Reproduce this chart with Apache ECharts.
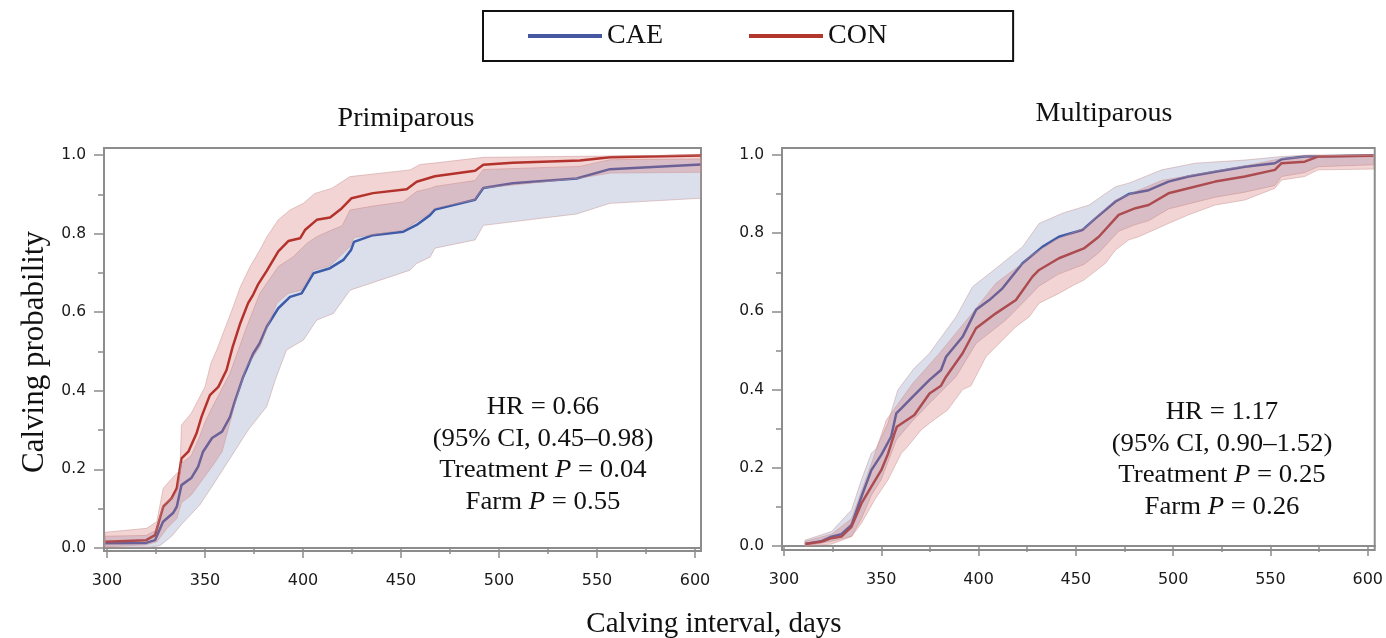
<!DOCTYPE html>
<html>
<head>
<meta charset="utf-8">
<script src="https://cdn.jsdelivr.net/npm/echarts@6/dist/echarts.min.js"></script>
<style>
  html, body { margin: 0; padding: 0; background: #fff; }
  #chart { width: 1386px; height: 638px; }
</style>
</head>
<body>
<div id="chart"></div>
<script>
// ticks
const xMajorTicks = [300, 350, 400, 450, 500, 550, 600];
const xMinorTicks = [325, 375, 425, 475, 525, 575];
const yMajorTicks = [0, 0.2, 0.4, 0.6, 0.8, 1.0];
const yMinorTicks = [0.1, 0.3, 0.5, 0.7, 0.9];

// Primiparous - CAE
const priCaeLine = [[299,0.012],[320,0.013],[324.5,0.02],[328.6,0.067],[333.7,0.089],[335.6,0.105],[338,0.16],[343,0.178],[346.5,0.207],[349,0.245],[353.6,0.28],[358.7,0.296],[362.8,0.334],[365,0.37],[369.5,0.436],[374.6,0.495],[378,0.522],[381.5,0.563],[387.4,0.61],[393.4,0.639],[399.3,0.648],[405.3,0.699],[413.8,0.712],[420.6,0.733],[424.5,0.758],[426,0.779],[435.7,0.796],[451.2,0.805],[458,0.822],[464.8,0.847],[467.3,0.861],[487.8,0.886],[492,0.916],[507,0.928],[539.6,0.94],[556.6,0.964],[603,0.976]];
const priCaeUpper = [[299,0.03],[320,0.032],[325,0.045],[328.6,0.11],[333.7,0.13],[336,0.15],[338,0.215],[343,0.235],[347,0.28],[350,0.32],[353.4,0.355],[362.8,0.445],[371.3,0.563],[378,0.648],[387.4,0.716],[395,0.741],[401.9,0.775],[407,0.792],[414.6,0.809],[420,0.82],[424,0.86],[435.7,0.87],[451.2,0.881],[458,0.907],[464.8,0.915],[467.3,0.92],[487.8,0.935],[492,0.963],[541.3,0.971],[556.6,0.988],[603,0.99]];
const priCaeLower = [[299,0.002],[322,0.002],[327,0.006],[333,0.03],[338,0.06],[347.4,0.11],[354,0.16],[364.3,0.24],[372,0.3],[381.5,0.36],[386,0.43],[391.6,0.504],[400.2,0.529],[407,0.58],[415.5,0.597],[424,0.656],[454.6,0.707],[458,0.724],[464.8,0.74],[467.3,0.763],[487.8,0.784],[492,0.821],[539.6,0.85],[556.6,0.877],[603,0.89]];

// Primiparous - CON
const priConLine = [[299,0.016],[320,0.02],[324.5,0.033],[328.7,0.105],[333,0.127],[335.6,0.152],[338,0.228],[341.5,0.245],[345.7,0.292],[348.3,0.335],[352.5,0.389],[356.8,0.41],[361,0.453],[364,0.51],[368,0.572],[372,0.623],[374.6,0.645],[377,0.67],[381.5,0.705],[387.4,0.755],[392.5,0.781],[398.5,0.788],[401,0.809],[407,0.835],[413.8,0.841],[419.7,0.864],[424.8,0.89],[435.7,0.903],[452.9,0.913],[458,0.932],[467.3,0.946],[487.8,0.96],[492,0.975],[507,0.98],[541.3,0.986],[556.6,0.994],[603,0.999]];
const priConUpper = [[299,0.04],[320.2,0.05],[325.4,0.067],[328.7,0.152],[333.8,0.181],[337.2,0.198],[338,0.313],[343,0.343],[347.4,0.385],[350,0.41],[353,0.47],[356,0.504],[364.4,0.614],[368,0.664],[373,0.716],[378,0.758],[381.6,0.792],[387.4,0.835],[393.4,0.86],[400.2,0.877],[406,0.902],[414.6,0.915],[424,0.945],[454.6,0.962],[459.7,0.976],[468,0.98],[492,0.994],[603,1.0]];
const priConLower = [[299,0.003],[320,0.008],[325.5,0.016],[330.6,0.05],[335.6,0.075],[338,0.115],[343,0.135],[347.4,0.165],[354,0.21],[358.7,0.245],[362.8,0.32],[366,0.38],[371.3,0.461],[378,0.512],[386.6,0.623],[392.5,0.648],[399.3,0.656],[405.3,0.707],[413.8,0.718],[424,0.767],[426,0.79],[451.2,0.809],[458,0.83],[464.8,0.852],[467.3,0.865],[487.8,0.886],[492,0.916],[541.3,0.941],[556.6,0.954],[603,0.956]];

// Multiparous - CAE
const mulCaeLine = [[310.8,0.005],[319,0.012],[324.4,0.024],[329.5,0.03],[334.7,0.054],[339.8,0.126],[344.9,0.194],[350,0.233],[355.1,0.28],[357.7,0.339],[360.3,0.352],[366.2,0.382],[374.8,0.425],[380.7,0.45],[383.3,0.484],[391.8,0.535],[398.7,0.604],[405.5,0.629],[412.3,0.659],[422.6,0.723],[432.8,0.765],[441.3,0.791],[453.3,0.808],[460.1,0.838],[470.4,0.881],[477.2,0.9],[487.4,0.91],[497.6,0.932],[507.9,0.945],[521.6,0.957],[536.9,0.97],[552.3,0.979],[555.7,0.989],[567.6,0.996],[603,0.999]];
const mulCaeUpper = [[310.8,0.015],[324.4,0.037],[334.7,0.092],[339.8,0.169],[344.9,0.237],[347.5,0.25],[353.4,0.314],[358.5,0.399],[367,0.455],[374.8,0.493],[388.4,0.586],[396.9,0.663],[408.9,0.71],[422.6,0.765],[431.1,0.825],[443.1,0.851],[456.8,0.872],[470.4,0.919],[477.2,0.928],[494.2,0.962],[511.3,0.979],[536.9,0.987],[555.7,0.996],[570,1.0],[603,1.0]];
const mulCaeLower = [[310.8,0.0],[324.4,0.012],[334.7,0.025],[339.8,0.07],[344.9,0.13],[350,0.17],[357.7,0.271],[366,0.32],[374.8,0.365],[388.4,0.433],[398.7,0.518],[414,0.578],[425.9,0.638],[431.1,0.665],[441.3,0.696],[454.1,0.72],[461.8,0.75],[472,0.805],[480.6,0.822],[487.4,0.832],[497.6,0.862],[507.9,0.875],[521.6,0.892],[536.9,0.905],[552.3,0.922],[555.7,0.945],[567.6,0.955],[574.4,0.97],[603,0.975]];

// Multiparous - CON
const mulConLine = [[310.8,0.005],[319.3,0.011],[324.4,0.02],[329.5,0.024],[334.7,0.049],[339.8,0.109],[344.9,0.152],[350,0.194],[353.4,0.235],[356.8,0.288],[358,0.305],[367,0.335],[374.8,0.39],[380.7,0.41],[383.3,0.433],[391.8,0.493],[398.7,0.557],[408.9,0.595],[419.2,0.629],[427.7,0.689],[431.1,0.706],[441.3,0.736],[454.1,0.761],[461.8,0.791],[472,0.847],[480.6,0.864],[487.4,0.872],[497.6,0.902],[507.9,0.915],[521.6,0.932],[536.9,0.945],[552.3,0.962],[555.7,0.979],[567.6,0.983],[574.4,0.996],[603,0.998]];
const mulConUpper = [[310.8,0.012],[324.4,0.03],[334.7,0.07],[339.8,0.14],[344.9,0.21],[352.6,0.322],[366.2,0.416],[379.9,0.493],[395.2,0.586],[408.9,0.672],[422.6,0.723],[426,0.74],[439.6,0.783],[455,0.815],[460,0.84],[470.4,0.885],[494.2,0.935],[511.3,0.95],[536.9,0.972],[554.6,0.99],[571,0.998],[603,1.0]];
const mulConLower = [[310.8,0.0],[324.4,0.005],[334.7,0.024],[339.8,0.058],[346.6,0.118],[353.4,0.169],[360.3,0.237],[362.8,0.25],[370.5,0.297],[374.8,0.314],[384.1,0.348],[391.8,0.4],[396.1,0.41],[403.8,0.484],[419.2,0.561],[426,0.586],[431.1,0.621],[441.3,0.646],[449.9,0.67],[454.1,0.68],[465.2,0.723],[470.4,0.757],[477.2,0.783],[482.3,0.791],[497.6,0.825],[507.9,0.847],[521.6,0.872],[536.9,0.885],[552.3,0.915],[555.7,0.936],[567.6,0.945],[574.4,0.962],[603,0.964]];

const CAE_COLOR = '#1f43a0';
const CON_COLOR = '#a5180f';
const CAE_BAND = 'rgba(132,148,188,0.3)';
const CON_BAND = 'rgba(215,112,112,0.3)';
const FRAME = '#8c8c8c';
const SERIF = '"Liberation Serif", "Times New Roman", serif';
const SANS = '"DejaVu Sans", Verdana, sans-serif';

const chart = echarts.init(document.getElementById('chart'));

function xAxes(grid, min, max) {
    const base = { type: 'value', gridIndex: grid, min: min, max: max, position: 'bottom',
        splitLine: { show: false },
        axisLine: { show: true, lineStyle: { color: FRAME, width: 2 } } };
    return [
        Object.assign({}, base, {
            axisTick: { show: true, length: 10, customValues: xMajorTicks, lineStyle: { color: FRAME, width: 1.5 } },
            axisLabel: { show: true, customValues: xMajorTicks, margin: 22, fontFamily: SANS, fontSize: 16, color: '#1a1a1a' }
        }),
        Object.assign({}, base, {
            axisTick: { show: true, length: 6, customValues: xMinorTicks, lineStyle: { color: FRAME, width: 1.5 } },
            axisLabel: { show: false }
        })
    ];
}

function yAxes(grid, min, max) {
    const base = { type: 'value', gridIndex: grid, min: min, max: max, position: 'left',
        splitLine: { show: false },
        axisLine: { show: true, lineStyle: { color: FRAME, width: 2 } } };
    return [
        Object.assign({}, base, {
            axisTick: { show: true, length: 10, customValues: yMajorTicks, lineStyle: { color: FRAME, width: 1.5 } },
            axisLabel: { show: true, customValues: yMajorTicks, margin: 18, fontFamily: SANS, fontSize: 15.5, color: '#1a1a1a',
                formatter: v => v.toFixed(1) }
        }),
        Object.assign({}, base, {
            axisTick: { show: true, length: 6, customValues: yMinorTicks, lineStyle: { color: FRAME, width: 1.5 } },
            axisLabel: { show: false }
        })
    ];
}

function line(name, axis, data, color) {
    return { type: 'line', name: name, xAxisIndex: axis, yAxisIndex: axis, data: data,
        showSymbol: false, symbol: 'none', smooth: false,
        lineStyle: { color: color, width: 2.5 }, itemStyle: { color: color }, z: 2 };
}

// CI band drawn as a polygon through the axes' own scales
function band(axis, upper, lower, color) {
    return { type: 'custom', xAxisIndex: axis, yAxisIndex: axis, data: [[450, 0.5]], silent: true, z: 3,
        renderItem: function (params, api) {
            const pts = upper.concat(lower.slice().reverse()).map(p => api.coord(p));
            return { type: 'polygon', shape: { points: pts },
                style: { fill: color, stroke: 'rgba(200,150,150,0.5)', lineWidth: 1 } };
        } };
}

function note(x, y, lines) {
    return { type: 'text', x: x, y: y, scaleX: 1.07, style: {
        text: lines.join('\n'), fill: '#111', font: '25px ' + SERIF,
        textAlign: 'center', textVerticalAlign: 'top', lineHeight: 31.5,
        rich: { i: { fontStyle: 'italic', fontSize: 25, fontFamily: SERIF, fill: '#111' } }
    } };
}

const option = {
    animation: false,
    backgroundColor: '#fff',
    title: [
        { text: 'Primiparous', left: 406, top: 105, textAlign: 'center', padding: 0,
          textStyle: { fontFamily: SERIF, fontSize: 28, fontWeight: 'normal', color: '#111', lineHeight: 28 } },
        { text: 'Multiparous', left: 1104, top: 100, textAlign: 'center', padding: 0,
          textStyle: { fontFamily: SERIF, fontSize: 28, fontWeight: 'normal', color: '#111', lineHeight: 28 } }
    ],
    legend: {
        left: 483, top: 11,
        padding: [11, 126, 11, 45],
        borderColor: '#111', borderWidth: 2,
        icon: 'rect', itemWidth: 74, itemHeight: 4, itemGap: 86,
        textStyle: { fontFamily: SERIF, fontSize: 28, color: '#111', lineHeight: 28 },
        data: [
            { name: 'CAE', itemStyle: { color: '#4658a2' } },
            { name: 'CON', itemStyle: { color: '#b2382e' } }
        ],
        selectedMode: false
    },
    grid: [
        { left: 104, top: 148, width: 597, height: 403, show: true, borderColor: FRAME, borderWidth: 2, containLabel: false },
        { left: 782, top: 148, width: 595, height: 402, show: true, borderColor: FRAME, borderWidth: 2, containLabel: false }
    ],
    xAxis: xAxes(0, 298.47, 603.06).concat(xAxes(1, 298.98, 603.6)),
    yAxis: yAxes(0, -0.0076, 1.0178).concat(yAxes(1, -0.0102, 1.0179)),
    series: [
        line('CAE', 0, priCaeLine, CAE_COLOR),
        line('CON', 0, priConLine, CON_COLOR),
        band(0, priCaeUpper, priCaeLower, CAE_BAND),
        band(0, priConUpper, priConLower, CON_BAND),
        line('CAE', 2, mulCaeLine, CAE_COLOR),
        line('CON', 2, mulConLine, CON_COLOR),
        band(2, mulCaeUpper, mulCaeLower, CAE_BAND),
        band(2, mulConUpper, mulConLower, CON_BAND)
    ],
    graphic: [
        { type: 'text', x: 714, y: 624, style: { text: 'Calving interval, days', fill: '#111',
            font: '29px ' + SERIF, textAlign: 'center', textVerticalAlign: 'middle' } },
        { type: 'text', x: 35, y: 352, rotation: Math.PI / 2, style: { text: 'Calving probability', fill: '#111',
            font: '31px ' + SERIF, textAlign: 'center', textVerticalAlign: 'middle' } },
        note(543, 392, ['HR = 0.66', '(95% CI, 0.45\u20130.98)', 'Treatment {i|P} = 0.04', 'Farm {i|P} = 0.55']),
        note(1222, 397, ['HR = 1.17', '(95% CI, 0.90\u20131.52)', 'Treatment {i|P} = 0.25', 'Farm {i|P} = 0.26'])
    ]
};

chart.setOption(option);
</script>
</body>
</html>
